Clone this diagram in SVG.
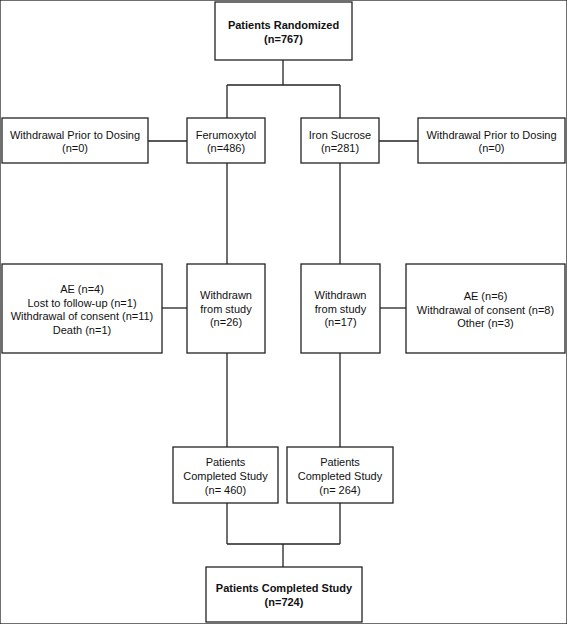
<svg xmlns="http://www.w3.org/2000/svg" width="567" height="624" viewBox="0 0 567 624">
<style>
rect{fill:#fff;stroke:#222;stroke-width:1.3}
line{stroke:#222;stroke-width:1.3}
text{font-family:"Liberation Sans",Arial,sans-serif;font-size:11px;fill:#111;text-anchor:middle}
.b{font-weight:bold}
</style>
<rect width="567" height="624" fill="#fff" stroke="none"/>
<g id="connectors">
<line x1="283" y1="60" x2="283" y2="85"/>
<line x1="227" y1="85" x2="340" y2="85"/>
<line x1="227" y1="85" x2="227" y2="118"/>
<line x1="340" y1="85" x2="340" y2="118"/>
<line x1="148" y1="141" x2="187" y2="141"/>
<line x1="379" y1="141" x2="418" y2="141"/>
<line x1="227" y1="163" x2="227" y2="264"/>
<line x1="340" y1="163" x2="340" y2="264"/>
<line x1="162" y1="308" x2="187" y2="308"/>
<line x1="380" y1="308" x2="406" y2="308"/>
<line x1="227" y1="353" x2="227" y2="447"/>
<line x1="340" y1="353" x2="340" y2="447"/>
<line x1="227" y1="503" x2="227" y2="544"/>
<line x1="340" y1="503" x2="340" y2="544"/>
<line x1="227" y1="544" x2="340" y2="544"/>
<line x1="283" y1="544" x2="283" y2="567"/>
</g>
<g id="randomized">
<rect x="215" y="2" width="137" height="58"/>
<text class="b" x="283.5" y="28.5">Patients Randomized</text>
<text class="b" x="283.5" y="42.5">(n=767)</text>
</g>
<g id="withdrawal-left">
<rect x="2" y="118" width="146" height="45"/>
<text x="75" y="139">Withdrawal Prior to Dosing</text>
<text x="75" y="152">(n=0)</text>
</g>
<g id="ferumoxytol">
<rect x="187" y="118" width="78" height="45"/>
<text x="226" y="139">Ferumoxytol</text>
<text x="226" y="152">(n=486)</text>
</g>
<g id="iron-sucrose">
<rect x="301" y="118" width="78" height="45"/>
<text x="340" y="139">Iron Sucrose</text>
<text x="340" y="152">(n=281)</text>
</g>
<g id="withdrawal-right">
<rect x="418" y="118" width="147" height="45"/>
<text x="491.5" y="139">Withdrawal Prior to Dosing</text>
<text x="491.5" y="152">(n=0)</text>
</g>
<g id="reasons-left">
<rect x="2" y="264" width="160" height="89"/>
<text x="82" y="293">AE (n=4)</text>
<text x="82" y="306.5">Lost to follow-up (n=1)</text>
<text x="82" y="320">Withdrawal of consent (n=11)</text>
<text x="82" y="333.5">Death (n=1)</text>
</g>
<g id="withdrawn-left">
<rect x="187" y="264" width="78" height="89"/>
<text x="226" y="299">Withdrawn</text>
<text x="226" y="312.5">from study</text>
<text x="226" y="326">(n=26)</text>
</g>
<g id="withdrawn-right">
<rect x="301" y="264" width="79" height="89"/>
<text x="340.5" y="299">Withdrawn</text>
<text x="340.5" y="312.5">from study</text>
<text x="340.5" y="326">(n=17)</text>
</g>
<g id="reasons-right">
<rect x="406" y="264" width="159" height="89"/>
<text x="485.5" y="300">AE (n=6)</text>
<text x="485.5" y="313.5">Withdrawal of consent (n=8)</text>
<text x="485.5" y="327">Other (n=3)</text>
</g>
<g id="completed-left">
<rect x="173" y="447" width="105" height="56"/>
<text x="225.5" y="466">Patients</text>
<text x="225.5" y="480">Completed Study</text>
<text x="225.5" y="494">(n= 460)</text>
</g>
<g id="completed-right">
<rect x="287" y="447" width="106" height="56"/>
<text x="340" y="466">Patients</text>
<text x="340" y="480">Completed Study</text>
<text x="340" y="494">(n= 264)</text>
</g>
<g id="completed-total">
<rect x="206" y="567" width="156" height="55"/>
<text class="b" x="284" y="592">Patients Completed Study</text>
<text class="b" x="284" y="606">(n=724)</text>
</g>
</svg>
